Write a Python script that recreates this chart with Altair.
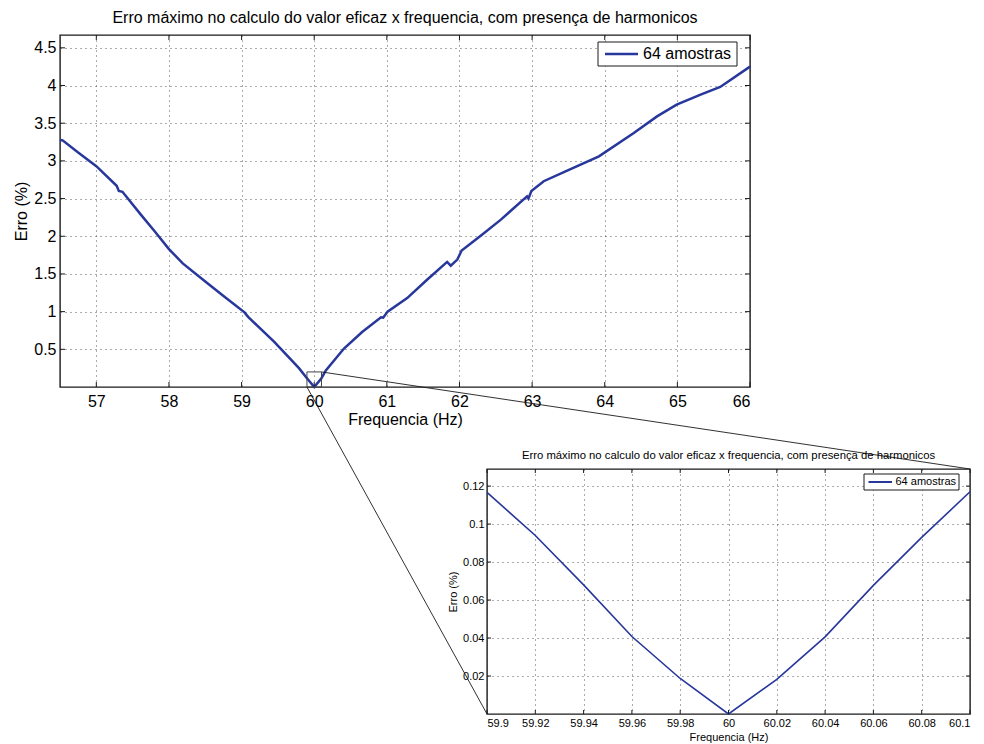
import altair as alt
import pandas as pd

FONTE = "Liberation Sans"
AZUL = "#27379b"
PRETO = "#1a1a1a"
SERIE = "64 amostras"
TITULO = "Erro máximo no calculo do valor eficaz x frequencia, com presença de harmonicos"
TITULO_X = "Frequencia (Hz)"
TITULO_Y = "Erro (%)"

# Erro máximo (%) na faixa completa de frequência
freq_total = [56.50, 56.54, 56.75, 57.00, 57.28, 57.31, 57.36, 57.61, 57.80, 58.00,
              58.19, 58.50, 58.76, 59.04, 59.09, 59.45, 59.79, 59.90, 60.00, 60.10,
              60.16, 60.41, 60.66, 60.92, 60.95, 61.01, 61.28, 61.55, 61.83, 61.88,
              61.97, 62.03, 62.31, 62.57, 62.93, 62.95, 62.99, 63.16, 63.46, 63.92,
              64.40, 64.72, 64.99, 65.32, 65.59, 66.00]
erro_total = [3.28, 3.27, 3.11, 2.93, 2.67, 2.60, 2.59, 2.29, 2.07, 1.83,
              1.64, 1.40, 1.20, 0.99, 0.93, 0.60, 0.25, 0.117, 0.0, 0.117,
              0.22, 0.51, 0.73, 0.925, 0.92, 1.00, 1.18, 1.42, 1.66, 1.61,
              1.69, 1.81, 2.02, 2.22, 2.53, 2.50, 2.60, 2.73, 2.86, 3.06,
              3.37, 3.59, 3.745, 3.88, 3.98, 4.25]

# Detalhe em torno de 60 Hz
freq_detalhe = [59.90, 59.92, 59.94, 59.96, 59.98, 60.00, 60.02, 60.04, 60.06, 60.08, 60.10]
erro_detalhe = [0.1167, 0.0940, 0.0680, 0.0408, 0.0187, 0.0, 0.0182, 0.0406, 0.0677, 0.0930, 0.1170]

x_ticks_total = [57, 58, 59, 60, 61, 62, 63, 64, 65, 66]
y_ticks_total = [0.5, 1, 1.5, 2, 2.5, 3, 3.5, 4, 4.5]
x_ticks_detalhe = [59.9, 59.92, 59.94, 59.96, 59.98, 60.0, 60.02, 60.04, 60.06, 60.08, 60.1]
y_ticks_detalhe = [0.02, 0.04, 0.06, 0.08, 0.1, 0.12]

dom_x_total = [56.5, 66]
dom_y_total = [0, 4.67]
dom_x_detalhe = [59.9, 60.1]
dom_y_detalhe = [0, 0.129]

# janela ampliada (marcada no gráfico completo)
janela = {"f0": 59.9, "f1": 60.1, "e0": 0.0, "e1": 0.2}

# dimensões dos painéis (px)
W1, H1 = 690, 352
W2, H2 = 483, 245
DX = 427   # deslocamento horizontal do painel de detalhe
DY = 82    # espaço vertical entre os painéis


def painel(freq, erro, dom_x, dom_y, xt, yt, w, h, fs, fs_tit, lw, tam_tick,
           leg, pads, tit_off, extras=()):
    df = pd.DataFrame({"f": freq, "e": erro})
    esc_x = alt.Scale(domain=dom_x, nice=False, zero=False)
    esc_y = alt.Scale(domain=dom_y, nice=False, zero=False)
    ax_x = alt.Axis(values=xt, format="~g", labelFontSize=fs, titleFontSize=fs,
                    labelPadding=pads[0], titlePadding=pads[1])
    ax_y = alt.Axis(values=yt, format="~g", labelFontSize=fs, titleFontSize=fs,
                    labelPadding=pads[2], titlePadding=pads[3])
    X = lambda c: alt.X(c, type="quantitative", scale=esc_x, axis=ax_x, title=TITULO_X)
    Y = lambda c: alt.Y(c, type="quantitative", scale=esc_y, axis=ax_y, title=TITULO_Y)

    linha = alt.Chart(df).mark_line(color=AZUL, strokeWidth=lw).encode(x=X("f"), y=Y("e"))

    tx = alt.Chart(pd.DataFrame({"f": xt}))
    ty = alt.Chart(pd.DataFrame({"e": yt}))
    tick = dict(color=PRETO, strokeWidth=1)
    ticks = [
        tx.mark_rule(**tick).encode(x=X("f"), y=alt.value(h), y2=alt.value(h - tam_tick)),
        tx.mark_rule(**tick).encode(x=X("f"), y=alt.value(0), y2=alt.value(tam_tick)),
        ty.mark_rule(**tick).encode(y=Y("e"), x=alt.value(0), x2=alt.value(tam_tick)),
        ty.mark_rule(**tick).encode(y=Y("e"), x=alt.value(w), x2=alt.value(w - tam_tick)),
    ]

    lx, ly, lw_box, lh, l0, l1, tx0, lfs, lsw = leg
    dl = alt.Chart(pd.DataFrame({"serie": [SERIE]}))
    legenda = [
        dl.mark_rect(fill="white", stroke=PRETO, strokeWidth=1).encode(
            x=alt.value(lx), x2=alt.value(lx + lw_box), y=alt.value(ly), y2=alt.value(ly + lh)),
        dl.mark_rule(color=AZUL, strokeWidth=lsw).encode(
            x=alt.value(l0), x2=alt.value(l1), y=alt.value(ly + lh / 2)),
        dl.mark_text(align="left", baseline="middle", font=FONTE, fontSize=lfs, color="black").encode(
            x=alt.value(tx0), y=alt.value(ly + lh / 2), text="serie:N"),
    ]

    camadas = [linha] + ticks + [e(X, Y) for e in extras] + legenda
    return alt.layer(*camadas).properties(
        width=w, height=h,
        title=alt.Title(TITULO, fontSize=fs_tit, offset=tit_off),
        view=alt.ViewBackground(stroke=PRETO, strokeWidth=1.4, fill="white"),
    )


def janela_e_conexoes(X, Y):
    dj = alt.Chart(pd.DataFrame([janela]))
    X2 = lambda c: alt.X2(c, title=TITULO_X)
    Y2 = lambda c: alt.Y2(c, title=TITULO_Y)
    caixa = dj.mark_rect(fillOpacity=0, stroke="#444", strokeWidth=1).encode(
        x=X("f0"), x2=X2("f1"), y=Y("e0"), y2=Y2("e1"))
    sup = dj.mark_rule(color=PRETO, strokeWidth=0.9, clip=False).encode(
        x=X("f1"), y=Y("e1"), x2=alt.value(DX + W2), y2=alt.value(H1 + DY))
    inf = dj.mark_rule(color=PRETO, strokeWidth=0.9, clip=False).encode(
        x=X("f0"), y=Y("e0"), x2=alt.value(DX), y2=alt.value(H1 + DY + H2))
    return alt.layer(caixa, sup, inf)


principal = painel(
    freq_total, erro_total, dom_x_total, dom_y_total, x_ticks_total, y_ticks_total,
    W1, H1, 16, 16, 2.5, 5,
    (538, 7, 139, 24, 545, 578, 583, 16, 2.5), (6, 2, 4, 4), 9,
    extras=(janela_e_conexoes,),
)

detalhe = painel(
    freq_detalhe, erro_detalhe, dom_x_detalhe, dom_y_detalhe, x_ticks_detalhe, y_ticks_detalhe,
    W2, H2, 11, 11.3, 1.6, 4,
    (377, 5, 95, 16, 381.5, 405, 408.5, 11, 2), (3, 3, 3, 4), 7,
)

espaco = alt.Chart(pd.DataFrame({"serie": [SERIE]})).mark_point(opacity=0).encode(
    x=alt.value(0), y=alt.value(0)
).properties(width=1, height=H2, view=alt.ViewBackground(stroke="transparent"))

linha_inferior = alt.hconcat(espaco, detalhe, spacing=DX - 1, bounds="flush")

chart = alt.vconcat(principal, linha_inferior, spacing=DY, bounds="flush").properties(
    padding={"left": 13, "top": 8, "right": 5, "bottom": 0},
    background="white",
).configure_axis(
    labelFont=FONTE, titleFont=FONTE, labelColor="black", titleColor="black",
    titleFontWeight="normal", domain=False, ticks=False,
    grid=True, gridColor="#3a3a3a", gridDash=[1, 4], gridWidth=1, gridOpacity=0.85,
).configure_title(
    font=FONTE, fontWeight="normal", color="black", anchor="middle",
).configure_view(stroke="transparent")

chart.save("out.html", embed_options={"renderer": "svg", "actions": False})
